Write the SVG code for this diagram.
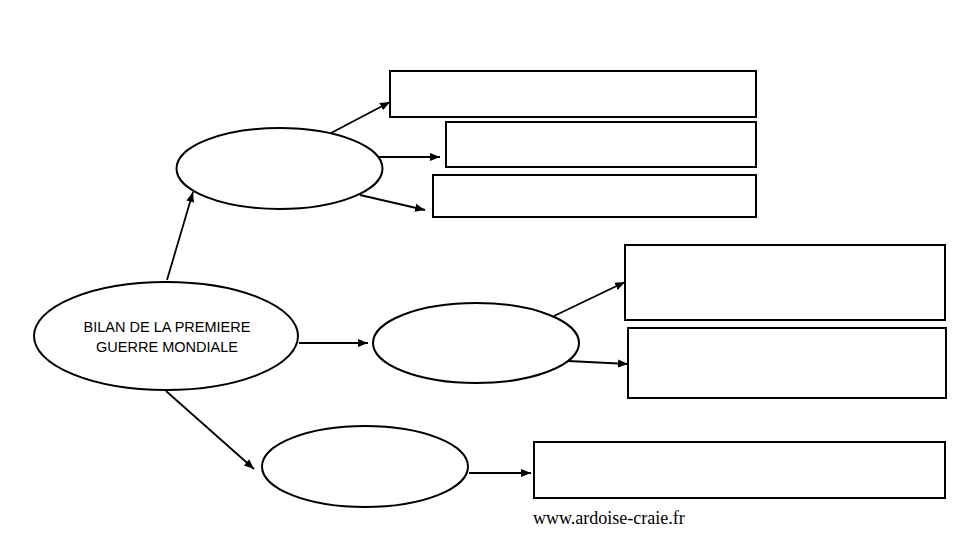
<svg xmlns="http://www.w3.org/2000/svg" width="960" height="540" viewBox="0 0 960 540">
<style>
.n{fill:#fff;stroke:#000;stroke-width:2}
.c line{stroke:#000;stroke-width:1.8;marker-end:url(#ah)}
.t{font-family:"Liberation Sans",Arial,sans-serif;font-size:14.5px;fill:#000;text-anchor:middle}
.f{font-family:"Liberation Serif","Times New Roman",serif;font-size:18px;fill:#000}
</style>
<defs>
<marker id="ah" viewBox="0 0 10 10" refX="10" refY="5" markerWidth="10" markerHeight="10" markerUnits="userSpaceOnUse" orient="auto">
<path d="M0,1 L10,5 L0,9 z" fill="#000"/>
</marker>
</defs>
<rect width="960" height="540" fill="#fff"/>
<g id="main"><ellipse class="n" cx="166" cy="336" rx="132" ry="54"/>
<text class="t" x="167" y="332">BILAN DE LA PREMIERE</text>
<text class="t" x="167" y="352">GUERRE MONDIALE</text></g>
<g id="e1"><ellipse class="n" cx="279.5" cy="168.5" rx="103" ry="40.5"/></g>
<g id="e2"><ellipse class="n" cx="476" cy="343" rx="103" ry="40"/></g>
<g id="e3"><ellipse class="n" cx="365" cy="466.5" rx="103" ry="40.5"/></g>
<g id="r1"><rect class="n" x="390" y="71" width="366" height="46"/></g>
<g id="r2"><rect class="n" x="446" y="122" width="310" height="45"/></g>
<g id="r3"><rect class="n" x="433" y="175" width="323" height="42"/></g>
<g id="r4"><rect class="n" x="625" y="245" width="320" height="75"/></g>
<g id="r5"><rect class="n" x="628" y="328" width="318" height="70"/></g>
<g id="r6"><rect class="n" x="534" y="442" width="411" height="56"/></g>
<g class="c" id="connectors">
<line x1="167" y1="280" x2="193" y2="192"/>
<line x1="331" y1="133" x2="390" y2="102"/>
<line x1="379" y1="157" x2="440" y2="157"/>
<line x1="360" y1="195" x2="425" y2="210"/>
<line x1="299" y1="343" x2="368" y2="343"/>
<line x1="554" y1="316" x2="625" y2="282"/>
<line x1="568" y1="361" x2="628" y2="364"/>
<line x1="166" y1="391" x2="254" y2="469"/>
<line x1="469" y1="473" x2="531" y2="473"/>
</g>
<text class="f" x="533" y="524">www.ardoise-craie.fr</text>
</svg>
